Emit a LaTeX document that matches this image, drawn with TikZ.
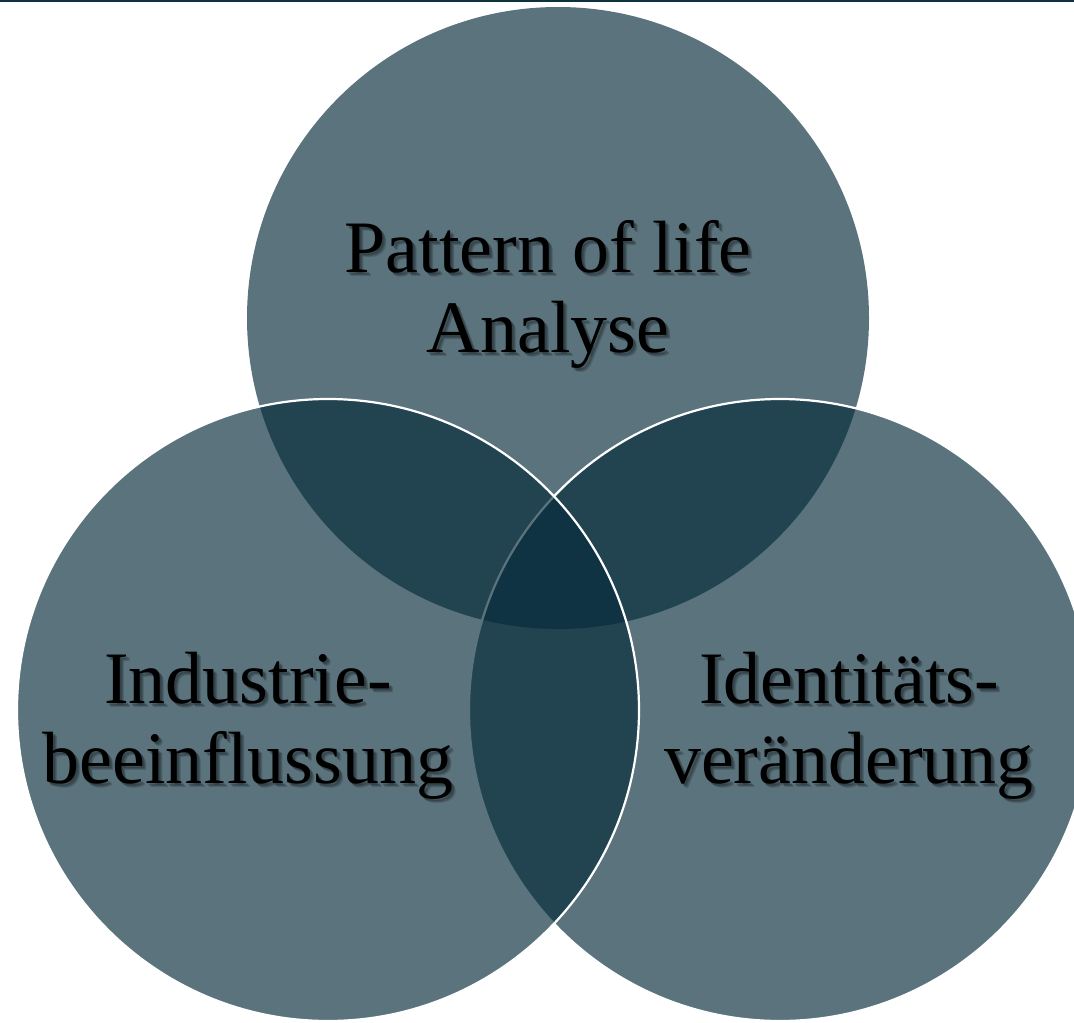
\documentclass[tikz,border=0pt]{standalone}
\usepackage{fontspec}
\setmainfont{Liberation Serif}
\definecolor{venn}{RGB}{5,43,58}
\definecolor{topline}{RGB}{14,50,62}
\newcommand\blurredshadow[2]{%
  % soft drop shadow built from a few faint, slightly shifted copies
  \foreach \dx/\dy in {2/2.5,3/3.5,4/4.5}
    \node[lbl, text=black, text opacity=0.16] at ([xshift=\dx pt, yshift=-\dy pt]#1) {#2};%
}
\begin{document}
\begin{tikzpicture}[x=1pt,y=-1pt,
  ring/.style={circle, minimum size=622pt, inner sep=0pt, fill=venn, fill opacity=0.66},
  rim/.style={draw=white, line width=2.2pt},
  lbl/.style={anchor=base, inner sep=0pt, font=\fontsize{74}{80}\selectfont}]
\useasboundingbox (0,0) rectangle (1074,1023);

% thin rule along the top edge
\fill[topline] (0,0) rectangle (1074,1.6);

% the three overlapping circles, top first, then right, then left
\node[ring] (top) at (558,318) {};
\node[ring, rim] (right) at (780,710) {};
\node[ring, rim] (left) at (328,710) {};

% label anchors (baselines of each line)
\coordinate (t1) at (548,272);
\coordinate (t2) at (548,352);
\coordinate (l1) at (248,703);
\coordinate (l2) at (248,783);
\coordinate (r1) at (849,703);
\coordinate (r2) at (849,783);

\blurredshadow{t1}{Pattern of life}
\blurredshadow{t2}{Analyse}
\blurredshadow{l1}{Industrie-}
\blurredshadow{l2}{beeinflussung}
\blurredshadow{r1}{Identitäts-}
\blurredshadow{r2}{veränderung}

\node[lbl] (toplabel1) at (t1) {Pattern of life};
\node[lbl] (toplabel2) at (t2) {Analyse};
\node[lbl] (leftlabel1) at (l1) {Industrie-};
\node[lbl] (leftlabel2) at (l2) {beeinflussung};
\node[lbl] (rightlabel1) at (r1) {Identitäts-};
\node[lbl] (rightlabel2) at (r2) {veränderung};
\end{tikzpicture}
\end{document}
